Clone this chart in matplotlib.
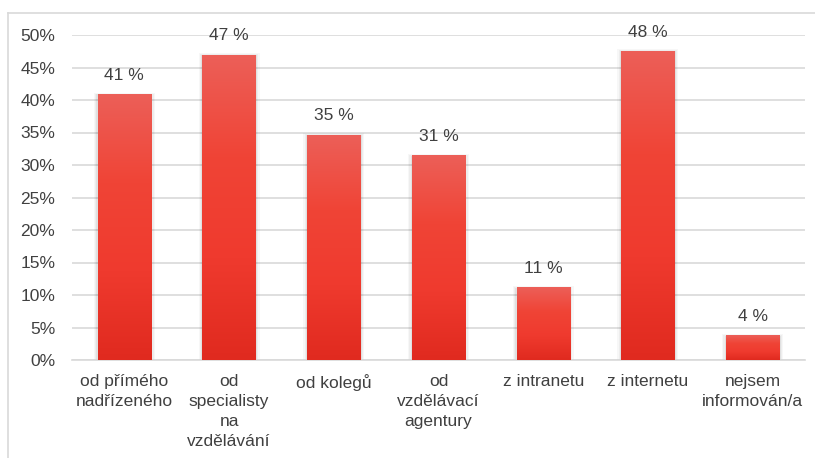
import matplotlib.pyplot as plt
import numpy as np
from matplotlib.colors import LinearSegmentedColormap
from matplotlib.lines import Line2D
from matplotlib.patches import Rectangle

plt.rcParams['font.family'] = ['Liberation Sans', 'DejaVu Sans']

categories = [
    "od přímého\nnadřízeného",
    "od\nspecialisty\nna\nvzdělávání",
    "od kolegů",
    "od\nvzdělávací\nagentury",
    "z intranetu",
    "z internetu",
    "nejsem\ninformován/a",
]
shares = [40.8, 46.9, 34.6, 31.4, 11.1, 47.5, 3.7]
y_ticks = [0, 5, 10, 15, 20, 25, 30, 35, 40, 45, 50]

text_color = "#404040"
grid_color = "#d9d9d9"
bar_cmap = LinearSegmentedColormap.from_list(
    "bar_red", ["#e02a1f", "#ef3a2e", "#f04436", "#ec5f58"])

fig = plt.figure(figsize=(8.15, 4.58), dpi=100)
ax = fig.add_axes([72 / 815, 1 - 360 / 458, 733 / 815, 325 / 458])

x = np.arange(len(categories))
width = 0.51
gradient = np.linspace(0, 1, 256).reshape(-1, 1)

for xi, val in zip(x, shares):
    left = xi - width / 2
    # soft shadow behind the bar
    for k, a in enumerate([0.05, 0.04, 0.03]):
        d = 0.012 * (k + 1)
        ax.add_patch(Rectangle((left - d, -0.1), width + 2 * d, val + 0.15 + k * 0.12,
                               facecolor="black", alpha=a, edgecolor="none", zorder=2))
    ax.imshow(gradient, cmap=bar_cmap, aspect="auto", origin="lower",
              extent=(left, left + width, 0, val), zorder=3)
    ax.text(xi, val + 1.8, f"{round(val):d} %", ha="center", va="bottom",
            fontsize=12.5, color=text_color, zorder=4)

ax.set_xlim(-0.5, len(categories) - 0.5)
ax.set_ylim(0, 50)
ax.set_yticks(y_ticks)
ax.set_yticklabels([f"{t}%" for t in y_ticks])
ax.set_xticks(x)
ax.set_xticklabels(categories, linespacing=1.42)
ax.yaxis.grid(True, color=grid_color, linewidth=1.2)
ax.set_axisbelow(True)
ax.tick_params(axis="both", length=0, labelsize=12.5, labelcolor=text_color)
ax.tick_params(axis="y", pad=12)
ax.tick_params(axis="x", pad=10)
for side in ["top", "right", "left"]:
    ax.spines[side].set_visible(False)
ax.spines["bottom"].set_color(grid_color)
ax.spines["bottom"].set_linewidth(1.2)

# chart frame, left and top edges
fig.add_artist(Line2D([7.5 / 815, 7.5 / 815], [0, 1 - 13 / 458],
                      color="#d9d9d9", linewidth=1.2))
fig.add_artist(Line2D([7.5 / 815, 1], [1 - 13 / 458, 1 - 13 / 458],
                      color="#d9d9d9", linewidth=1.2))

fig.savefig("out.png", dpi=100)
